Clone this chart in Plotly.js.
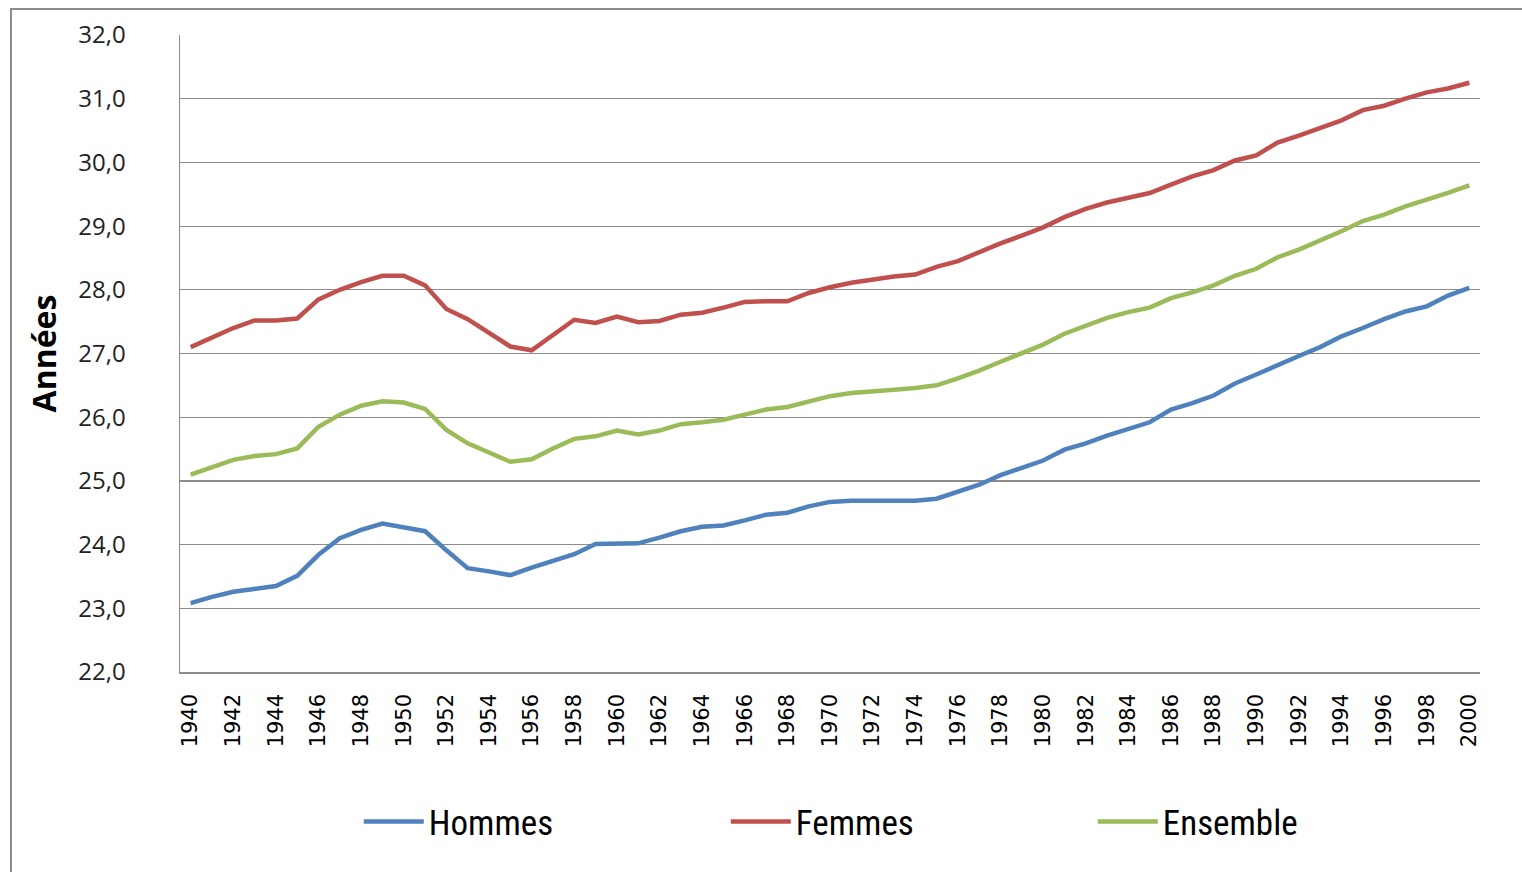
<!DOCTYPE html>
<html>
<head>
<meta charset="utf-8">
<script src="https://cdn.plot.ly/plotly-3.0.1.min.js"></script>
<style>
html,body{margin:0;padding:0;background:#fff;overflow:hidden;}
#frame{position:absolute;left:10px;top:8px;width:1520px;height:880px;border:2px solid #8c8c8c;box-sizing:border-box;}
#chart{position:absolute;left:0;top:0;width:1522px;height:872px;}
</style>
</head>
<body>
<div id="frame"></div>
<div id="chart"></div>
<script>
const years = [];
for (let y = 1940; y <= 2000; y++) years.push(y);

const hommes = [23.08,23.18,23.26,23.30,23.35,23.51,23.84,24.10,24.23,24.33,
  24.27,24.21,23.91,23.63,23.58,23.52,23.64,23.75,23.85,24.01,
  24.02,24.02,24.11,24.21,24.28,24.30,24.38,24.47,24.50,24.60,
  24.67,24.69,24.69,24.69,24.69,24.72,24.83,24.94,25.09,25.21,
  25.32,25.49,25.59,25.71,25.82,25.92,26.12,26.22,26.34,26.53,
  26.67,26.82,26.96,27.10,27.27,27.40,27.54,27.66,27.74,27.91,
  28.03];
const femmes = [27.10,27.25,27.40,27.52,27.52,27.55,27.85,28.00,28.12,28.22,
  28.22,28.07,27.70,27.54,27.32,27.11,27.05,27.29,27.53,27.48,
  27.58,27.49,27.51,27.61,27.64,27.72,27.81,27.82,27.82,27.95,
  28.04,28.11,28.16,28.21,28.24,28.36,28.45,28.59,28.73,28.85,
  28.98,29.14,29.27,29.37,29.45,29.52,29.65,29.78,29.88,30.03,
  30.11,30.31,30.42,30.54,30.66,30.82,30.89,31.00,31.10,31.16,
  31.25];
const ensemble = [25.10,25.21,25.33,25.39,25.42,25.51,25.85,26.04,26.18,26.25,
  26.23,26.13,25.80,25.59,25.45,25.30,25.34,25.51,25.66,25.70,
  25.79,25.73,25.79,25.89,25.92,25.96,26.04,26.12,26.16,26.24,
  26.33,26.38,26.40,26.43,26.46,26.50,26.61,26.73,26.87,27.01,
  27.14,27.31,27.44,27.56,27.65,27.72,27.87,27.96,28.07,28.22,
  28.33,28.51,28.63,28.77,28.92,29.08,29.18,29.31,29.41,29.52,
  29.64];
const seriesNames = ["Hommes", "Femmes", "Ensemble"];
const xTickVals = years.filter(y => y % 2 === 0);
const xTickText = xTickVals.map(String);
const yTickVals = [22,23,24,25,26,27,28,29,30,31,32];

const colors = ["#4F81BD", "#C0504D", "#9BBB59"];
const data = [hommes, femmes, ensemble].map((vals, i) => ({
  type: "scatter",
  mode: "lines",
  name: seriesNames[i],
  x: years,
  y: vals,
  line: {color: colors[i], width: 4.5}
}));

const layout = {
  width: 1522,
  height: 872,
  margin: {l: 180, r: 42, t: 35, b: 200},
  paper_bgcolor: "rgba(0,0,0,0)",
  plot_bgcolor: "#fff",
  separators: ",.",
  showlegend: true,
  legend: {
    orientation: "h",
    x: 0.561, xanchor: "center",
    y: -0.235, yanchor: "middle",
    font: {family: "Liberation Sans Narrow, Roboto Condensed, Liberation Sans, sans-serif", size: 35, color: "#000"},
    entrywidth: 292,
    entrywidthmode: "pixels",
    itemwidth: 60
  },
  xaxis: {
    range: [1939.5, 2000.5],
    tickmode: "array",
    tickvals: xTickVals,
    ticktext: xTickText,
    tickangle: -90,
    tickfont: {family: "DejaVu Sans, sans-serif", size: 21, color: "#000"},
    showgrid: false,
    zeroline: false,
    showline: true,
    linecolor: "#8c8c8c",
    linewidth: 1.5,
    ticks: "",
    ticklabelstandoff: 12,
    fixedrange: true
  },
  yaxis: {
    range: [22, 32],
    tickmode: "array",
    tickvals: yTickVals,
    tickformat: ".1f",
    tickfont: {family: "Open Sans, sans-serif", size: 24, color: "#222"},
    showgrid: true,
    gridcolor: "#8c8c8c",
    gridwidth: 1.2,
    zeroline: false,
    showline: true,
    linecolor: "#8c8c8c",
    linewidth: 1.5,
    ticks: "",
    ticklabelstandoff: 48,
    title: {text: "<b>Années</b>", font: {family: "Open Sans, sans-serif", size: 32, color: "#000"}, standoff: 12},
    fixedrange: true
  }
};

Plotly.newPlot("chart", data, layout, {displayModeBar: false, staticPlot: true});
</script>
</body>
</html>
